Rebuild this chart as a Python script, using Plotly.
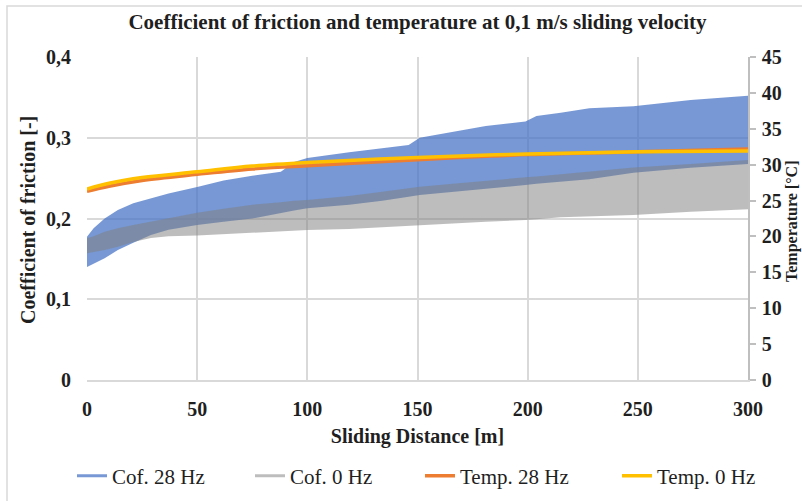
import plotly.graph_objects as go

# Sliding distance grid (m) shared by the friction envelopes
distance = [0, 3, 8, 14, 21, 29, 37, 50, 62, 75, 88, 94, 100, 119, 134, 146,
            151, 166, 181, 199, 204, 215, 228, 248, 274, 300]

# Coefficient of friction envelopes (upper / lower) at 28 Hz
cof28_upper = [0.1775, 0.188, 0.200, 0.2105, 0.219, 0.225, 0.231, 0.239, 0.247,
               0.253, 0.258, 0.270, 0.275, 0.282, 0.287, 0.291, 0.300, 0.3075,
               0.3145, 0.320, 0.327, 0.331, 0.3365, 0.339, 0.3467, 0.352]
cof28_lower = [0.140, 0.1445, 0.1507, 0.161, 0.170, 0.1796, 0.186, 0.192, 0.196,
               0.200, 0.207, 0.210, 0.2126, 0.217, 0.222, 0.227, 0.229, 0.233,
               0.237, 0.2415, 0.243, 0.246, 0.2485, 0.2567, 0.263, 0.2675]

# Coefficient of friction envelopes (upper / lower) at 0 Hz
cof0_upper = [0.1755, 0.178, 0.1837, 0.188, 0.192, 0.196, 0.200, 0.207, 0.212,
              0.217, 0.220, 0.222, 0.223, 0.228, 0.233, 0.237, 0.2394, 0.243,
              0.247, 0.251, 0.252, 0.255, 0.258, 0.2633, 0.2675, 0.2724]
cof0_lower = [0.157, 0.159, 0.161, 0.165, 0.171, 0.176, 0.178, 0.179, 0.180,
              0.1817, 0.184, 0.185, 0.1858, 0.187, 0.189, 0.1905, 0.192, 0.194,
              0.196, 0.198, 0.199, 0.2015, 0.2022, 0.2043, 0.2085, 0.2114]

# Temperature curves (°C)
temp_distance = [0, 10, 25, 50, 75, 100, 150, 200, 250, 300]
temp28 = [26.3, 27.0, 27.8, 28.65, 29.4, 29.85, 30.7, 31.4, 31.8, 32.2]
temp0 = [26.6, 27.4, 28.2, 29.0, 29.8, 30.3, 31.0, 31.5, 31.8, 31.9]

x_ticks = [0, 50, 100, 150, 200, 250, 300]
cof_ticks = [0, 0.1, 0.2, 0.3, 0.4]
cof_tick_text = ["0", "0,1", "0,2", "0,3", "0,4"]
temp_ticks = [0, 5, 10, 15, 20, 25, 30, 35, 40, 45]

BLUE = "rgba(68,114,196,0.73)"
GRAY = "rgba(128,128,128,0.52)"
ORANGE = "#ED7D31"
YELLOW = "#FFC000"
SERIF = "Liberation Serif, Times New Roman, serif"
TXT = "#1f1f1f"


def band(x, upper, lower):
    return x + x[::-1], upper + lower[::-1]


fig = go.Figure()

bx, by = band(distance, cof28_upper, cof28_lower)
fig.add_trace(go.Scatter(x=bx, y=by, fill="toself", fillcolor=BLUE,
                         line=dict(width=0), mode="lines", hoverinfo="skip",
                         showlegend=False))
gx, gy = band(distance, cof0_upper, cof0_lower)
fig.add_trace(go.Scatter(x=gx, y=gy, fill="toself", fillcolor=GRAY,
                         line=dict(width=0), mode="lines", hoverinfo="skip",
                         showlegend=False))

# Line keys for the friction bands
fig.add_trace(go.Scatter(x=[None], y=[None], mode="lines", name="Cof. 28 Hz",
                         line=dict(color=BLUE, width=3), legend="legend"))
fig.add_trace(go.Scatter(x=[None], y=[None], mode="lines", name="Cof. 0 Hz",
                         line=dict(color=GRAY, width=3), legend="legend2"))

fig.add_trace(go.Scatter(x=temp_distance, y=temp28, mode="lines", name="Temp. 28 Hz",
                         line=dict(color=ORANGE, width=3.5, shape="spline"),
                         yaxis="y2", legend="legend3"))
fig.add_trace(go.Scatter(x=temp_distance, y=temp0, mode="lines", name="Temp. 0 Hz",
                         line=dict(color=YELLOW, width=3.5, shape="spline"),
                         yaxis="y2", legend="legend4"))

L, R, T, B = 87, 54, 57, 121
W, H = 802, 501
pw, ph = W - L - R, H - T - B


def px_x(p):
    return (p - L) / pw


def px_y(p):
    return 1 - (p - T) / ph


legend_font = dict(family=SERIF, size=21, color=TXT)
bold_font = dict(family=SERIF, size=20, color=TXT, weight="bold")
leg_y = px_y(476)


def leg(xpx):
    return dict(x=px_x(xpx), y=leg_y, xanchor="left", yanchor="middle",
                orientation="h", font=legend_font, bgcolor="rgba(0,0,0,0)",
                borderwidth=0)


fig.update_layout(
    width=W, height=H,
    margin=dict(l=L, r=R, t=T, b=B, autoexpand=False),
    paper_bgcolor="white", plot_bgcolor="white",
    font=dict(family=SERIF, color=TXT),
    title=dict(text="<b>Coefficient of friction and temperature at 0,1 m/s sliding velocity</b>",
               x=0.5, xref="paper", xanchor="center", y=1 - 22 / H, yanchor="middle",
               font=dict(family=SERIF, size=21, color=TXT)),
    xaxis=dict(range=[0, 300], tickvals=x_ticks, showgrid=True,
               gridcolor="#D9D9D9", gridwidth=1.5, zeroline=False,
               showline=True, linecolor="#D9D9D9", linewidth=1.5,
               ticks="", ticklabelstandoff=10, tickfont=bold_font,
               title=dict(text="<b>Sliding Distance [m]</b>", standoff=10,
                          font=dict(family=SERIF, size=20, color=TXT))),
    yaxis=dict(range=[0, 0.4], tickvals=cof_ticks, ticktext=cof_tick_text,
               showgrid=True, gridcolor="#D9D9D9", gridwidth=1.5, zeroline=False,
               showline=False, ticks="", ticklabelstandoff=15,
               tickfont=bold_font),
    yaxis2=dict(range=[0, 45], tickvals=temp_ticks, overlaying="y", side="right",
                showgrid=False, zeroline=False, showline=True,
                linecolor="#BFBFBF", linewidth=1.5, ticks="outside",
                ticklen=6, tickcolor="#BFBFBF", tickwidth=1.5,
                ticklabelstandoff=2, tickfont=bold_font),
    legend=leg(72), legend2=leg(250), legend3=leg(420), legend4=leg(617),
    annotations=[
        dict(text="<b>Coefficient of friction [-]</b>", textangle=-90,
             xref="paper", yref="paper", x=px_x(28), y=px_y(220),
             xanchor="center", yanchor="middle", showarrow=False,
             font=dict(family=SERIF, size=20, color=TXT)),
        dict(text="<b>Temperature [°C]</b>", textangle=-90,
             xref="paper", yref="paper", x=px_x(792), y=px_y(222),
             xanchor="center", yanchor="middle", showarrow=False,
             font=dict(family=SERIF, size=16, color=TXT)),
    ],
    shapes=[dict(type="rect", xref="paper", yref="paper",
                 x0=px_x(7), x1=px_x(830), y0=px_y(530), y1=px_y(6),
                 line=dict(color="#D9D9D9", width=1.5), layer="below")],
)

fig.write_html("out.html")
